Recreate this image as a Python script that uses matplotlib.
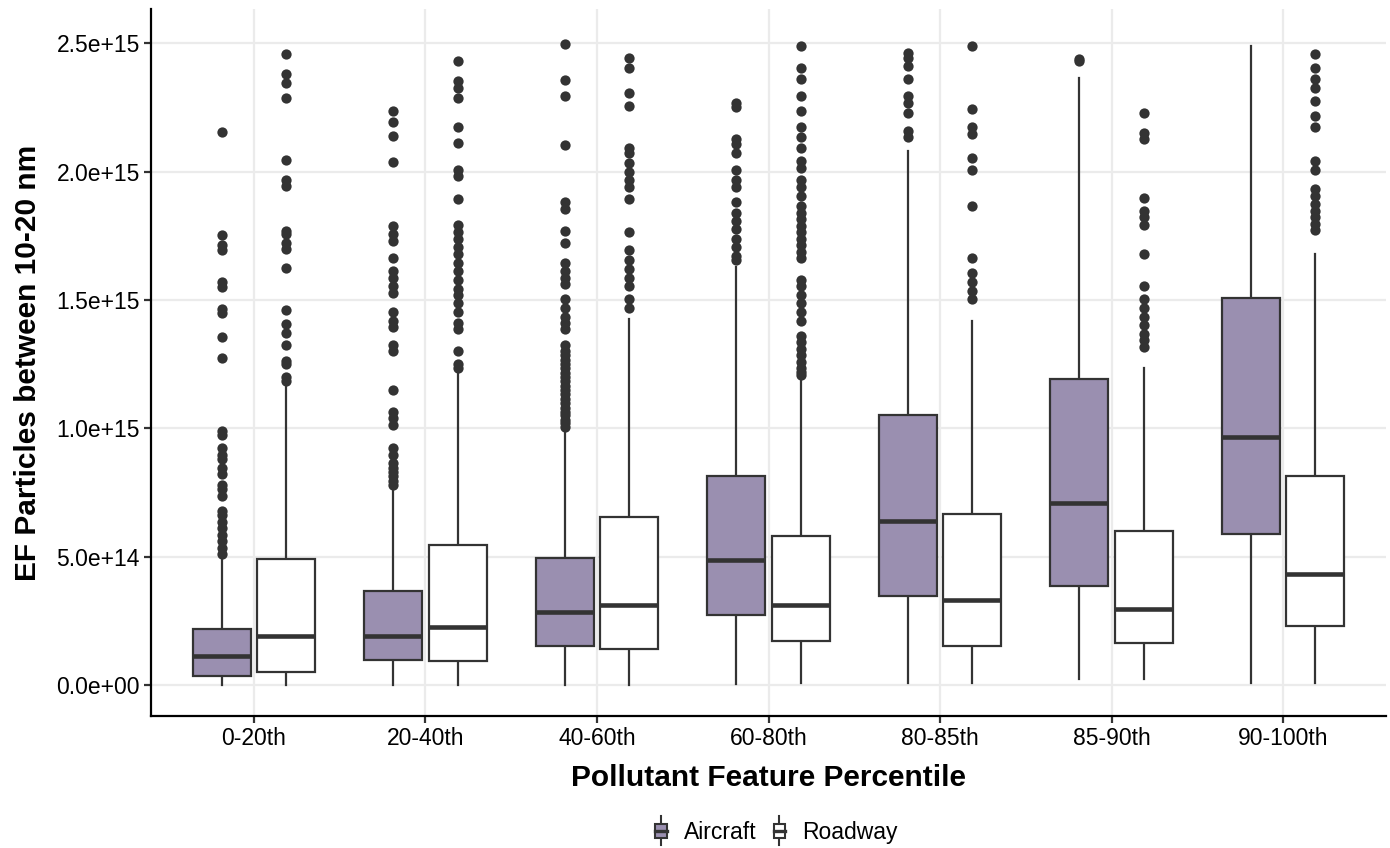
import matplotlib
matplotlib.use("Agg")
import matplotlib.pyplot as plt
from matplotlib.legend_handler import HandlerBase
from matplotlib.lines import Line2D
from matplotlib.patches import Rectangle, Patch
from matplotlib.ticker import FuncFormatter

plt.rcParams['font.family'] = ['Liberation Sans', 'DejaVu Sans']

# values in units of 1e15
categories = ["0-20th", "20-40th", "40-60th", "60-80th", "80-85th", "85-90th", "90-100th"]

air_lo = [0.0, 0.0, 0.0, 0.005, 0.008, 0.025, 0.008]
air_q1 = [0.035, 0.096, 0.153, 0.274, 0.348, 0.387, 0.589]
air_med = [0.111, 0.190, 0.284, 0.485, 0.639, 0.708, 0.967]
air_q3 = [0.217, 0.367, 0.493, 0.813, 1.053, 1.191, 1.506]
air_hi = [0.493, 0.771, 0.989, 1.629, 2.078, 2.364, 2.487]
air_fliers = [
    [0.510, 0.535, 0.560, 0.585, 0.611, 0.636, 0.661, 0.678, 0.737, 0.762, 0.779,
     0.821, 0.846, 0.880, 0.897, 0.922, 0.972, 0.989, 1.275, 1.356, 1.449, 1.465,
     1.549, 1.570, 1.696, 1.713, 1.751, 2.155],
    [0.779, 0.796, 0.813, 0.830, 0.846, 0.863, 0.897, 0.922, 1.014, 1.040, 1.065,
     1.149, 1.300, 1.326, 1.393, 1.418, 1.452, 1.528, 1.553, 1.586, 1.612, 1.662,
     1.729, 1.755, 1.788, 2.037, 2.138, 2.192, 2.234],
    [1.006, 1.020, 1.031, 1.050, 1.065, 1.080, 1.099, 1.115, 1.132, 1.150, 1.166,
     1.185, 1.200, 1.215, 1.233, 1.250, 1.267, 1.285, 1.300, 1.326, 1.385, 1.410,
     1.435, 1.469, 1.502, 1.561, 1.586, 1.612, 1.645, 1.720, 1.770, 1.855, 1.880,
     2.103, 2.296, 2.355, 2.495],
    [1.654, 1.670, 1.704, 1.738, 1.775, 1.809, 1.839, 1.881, 1.940, 1.965, 2.007,
     2.074, 2.108, 2.125, 2.251, 2.268],
    [2.133, 2.158, 2.226, 2.268, 2.293, 2.360, 2.411, 2.444, 2.461],
    [2.431, 2.438],
    [],
]

road_lo = [0.0, 0.0, 0.0, 0.008, 0.008, 0.022, 0.008]
road_q1 = [0.050, 0.093, 0.140, 0.173, 0.153, 0.163, 0.230]
road_med = [0.190, 0.227, 0.313, 0.311, 0.330, 0.296, 0.434]
road_q3 = [0.491, 0.547, 0.656, 0.580, 0.665, 0.599, 0.813]
road_hi = [1.166, 1.216, 1.427, 1.183, 1.418, 1.233, 1.679]
road_fliers = [
    [1.183, 1.200, 1.250, 1.263, 1.326, 1.371, 1.405, 1.460, 1.623, 1.700, 1.720,
     1.755, 1.770, 1.943, 1.965, 2.044, 2.285, 2.343, 2.380, 2.456],
    [1.233, 1.250, 1.300, 1.385, 1.410, 1.452, 1.486, 1.519, 1.544, 1.578, 1.612,
     1.645, 1.679, 1.704, 1.738, 1.763, 1.792, 1.893, 1.982, 2.007, 2.111, 2.175,
     2.285, 2.327, 2.352, 2.431],
    [1.469, 1.502, 1.553, 1.586, 1.620, 1.654, 1.696, 1.766, 1.893, 1.940, 1.965,
     1.999, 2.032, 2.074, 2.091, 2.254, 2.307, 2.402, 2.444],
    [1.208, 1.220, 1.233, 1.258, 1.284, 1.309, 1.334, 1.360, 1.418, 1.452, 1.486,
     1.519, 1.553, 1.578, 1.662, 1.687, 1.713, 1.738, 1.763, 1.788, 1.814, 1.839,
     1.864, 1.906, 1.940, 1.965, 2.015, 2.041, 2.091, 2.133, 2.175, 2.234, 2.293,
     2.360, 2.402, 2.487],
    [1.502, 1.536, 1.570, 1.603, 1.662, 1.864, 2.007, 2.054, 2.145, 2.175, 2.243,
     2.487],
    [1.317, 1.342, 1.368, 1.401, 1.435, 1.469, 1.502, 1.553, 1.679, 1.792, 1.822,
     1.847, 1.898, 2.125, 2.150, 2.226],
    [1.772, 1.797, 1.822, 1.847, 1.872, 1.906, 1.931, 2.007, 2.041, 2.175, 2.217,
     2.276, 2.327, 2.360, 2.402, 2.456],
]

SCALE = 1e15
dark = '#333333'
air_fill = '#9A8FB0'


def make_stats(lo, q1, med, q3, hi, fl):
    out = []
    for i in range(len(lo)):
        out.append(dict(whislo=lo[i] * SCALE, q1=q1[i] * SCALE, med=med[i] * SCALE,
                        q3=q3[i] * SCALE, whishi=hi[i] * SCALE,
                        fliers=[v * SCALE for v in fl[i]]))
    return out


fig = plt.figure(figsize=(13.9, 8.48), dpi=100)
ax = fig.add_axes([151 / 1390, 1 - 716 / 848, (1386 - 151) / 1390, (716 - 9) / 848])

box_w = 0.3375
offset = 0.1875
common = dict(widths=box_w, patch_artist=True, manage_ticks=False,
              whiskerprops=dict(color=dark, linewidth=1.6),
              capprops=dict(linewidth=0),
              medianprops=dict(color=dark, linewidth=3.3, solid_capstyle='butt'),
              flierprops=dict(marker='o', markerfacecolor=dark, markeredgecolor='none',
                              markersize=7.4))

pos = list(range(1, len(categories) + 1))
for stats, shift, fill in [
        (make_stats(air_lo, air_q1, air_med, air_q3, air_hi, air_fliers), -offset, air_fill),
        (make_stats(road_lo, road_q1, road_med, road_q3, road_hi, road_fliers), offset, 'white')]:
    res = ax.bxp(stats, positions=[p + shift for p in pos],
                 boxprops=dict(facecolor=fill, edgecolor=dark, linewidth=1.6),
                 **common)
    for b in res['boxes']:
        b.set_zorder(3)
    for m in res['medians']:
        m.set_zorder(4)

ax.set_xlim(0.4, len(categories) + 0.6)
ax.set_ylim(-0.121 * SCALE, 2.633 * SCALE)
ax.set_xticks(pos)
ax.set_xticklabels(categories)
ax.set_yticks([0, 0.5e15, 1.0e15, 1.5e15, 2.0e15, 2.5e15])
ax.yaxis.set_major_formatter(FuncFormatter(lambda v, p: f"{v:.1e}"))

ax.grid(True, color='#EBEBEB', linewidth=1.6)
ax.set_axisbelow(True)
for s in ['top', 'right']:
    ax.spines[s].set_visible(False)
for s in ['left', 'bottom']:
    ax.spines[s].set_linewidth(1.6)
    ax.spines[s].set_color('black')
ax.tick_params(axis='both', length=5, width=1.6, color=dark, labelsize=16.5,
               labelcolor='black', pad=3)

ax.set_xlabel("Pollutant Feature Percentile", fontsize=21.5, fontweight='bold', labelpad=10)
ax.set_ylabel("EF Particles between 10-20 nm", fontsize=21.5, fontweight='bold', labelpad=10)


class BoxHandler(HandlerBase):
    # small boxplot glyph for the legend key
    def create_artists(self, legend, orig_handle, xdescent, ydescent, width, height,
                       fontsize, trans):
        cx = width / 2 - xdescent
        fill = orig_handle.get_facecolor()
        w = width * 0.85
        y0 = -ydescent
        top = y0 + height * 1.2
        bot = y0 - height * 0.2
        b0 = y0 + height * 0.15
        b1 = y0 + height * 0.85
        mid = (b0 + b1) / 2
        return [
            Line2D([cx, cx], [bot, top], color=dark, lw=1.5, transform=trans),
            Rectangle((cx - w / 2, b0), w, b1 - b0, facecolor=fill, edgecolor=dark,
                      lw=1.5, transform=trans),
            Line2D([cx - w / 2, cx + w / 2], [mid, mid], color=dark, lw=2.4,
                   transform=trans),
        ]


handles = [Patch(facecolor=air_fill, label='Aircraft'),
           Patch(facecolor='white', label='Roadway')]
fig.legend(handles=handles, loc='center', bbox_to_anchor=(776 / 1390, 1 - 832 / 848),
           ncol=2, frameon=False, fontsize=16.5, handlelength=0.6, handleheight=1.0,
           handletextpad=0.7, columnspacing=0.7,
           handler_map={Patch: BoxHandler()})

fig.savefig('out.png', dpi=100)
